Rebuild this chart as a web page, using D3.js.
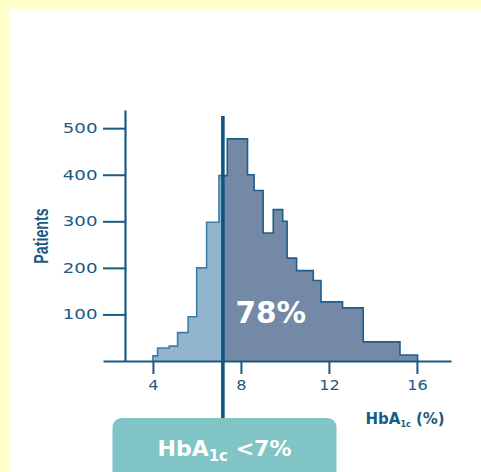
<!DOCTYPE html>
<html>
<head>
<meta charset="utf-8">
<script src="https://cdnjs.cloudflare.com/ajax/libs/d3/7.8.5/d3.min.js"></script>
<style>
  body { margin: 0; background: #ffffcc; }
  svg { display: block; }
</style>
</head>
<body>
<div id="chart"></div>
<script>
// histogram bins (HbA1c %, patients)
var binEdges = [4.0, 4.21, 4.74, 5.12, 5.6, 5.99, 6.44, 7.0, 7.38, 8.30, 8.60, 9.01, 9.47, 9.90, 10.10, 10.53, 11.29, 11.64, 12.62, 13.56, 15.23, 16.03];
var binCounts = [11, 28, 32, 61, 95, 200, 298, 398, 477, 400, 366, 275, 325, 300, 221, 194, 173, 127, 114, 41, 13];
var threshold = 7.18;
var xTicks = [4, 8, 12, 16];
var yTicks = [100, 200, 300, 400, 500];
var shareLabel = '78%';

(function(){
    var width = 481;
    var height = 472;
    var axisColour = '#1b5a84';

    var svg = d3.select('#chart')
        .append('svg')
            .attr('width', width)
            .attr('height', height)
            .style('font-family', '"DejaVu Sans", Verdana, sans-serif');

    svg.append('rect')
        .attr('width', width)
        .attr('height', height)
        .attr('fill', '#ffffcc');

    svg.append('rect')
        .attr('x', 9)
        .attr('y', 9)
        .attr('width', width - 9)
        .attr('height', height - 9)
        .attr('fill', '#ffffff');

    var xScale = d3.scaleLinear()
        .domain([1.73, 17.55])
        .range([103, 451]);

    var yScale = d3.scaleLinear()
        .domain([0, 539])
        .range([361, 110]);

    // step outline points
    var pts = [[binEdges[0], 0]];
    binCounts.forEach(function(c, i){
        pts.push([binEdges[i], c]);
    });
    pts.push([binEdges[binEdges.length - 1], 0]);

    var area = d3.area()
        .curve(d3.curveStepAfter)
        .x(function(d){ return xScale(d[0]); })
        .y0(yScale(0))
        .y1(function(d){ return yScale(d[1]); });

    var line = d3.line()
        .curve(d3.curveStepAfter)
        .x(function(d){ return xScale(d[0]); })
        .y(function(d){ return yScale(d[1]); });

    var defs = svg.append('defs');
    defs.append('clipPath').attr('id', 'below')
        .append('rect')
        .attr('x', 0).attr('y', 0)
        .attr('width', xScale(threshold)).attr('height', height);
    defs.append('clipPath').attr('id', 'above')
        .append('rect')
        .attr('x', xScale(threshold)).attr('y', 0)
        .attr('width', width).attr('height', height);

    var parts = [
        {clip: 'below', fill: '#91b5cd', stroke: '#3f7ca5'},
        {clip: 'above', fill: '#7489a6', stroke: '#1f5e89'}
    ];

    parts.forEach(function(p){
        svg.append('path')
            .datum(pts)
            .attr('clip-path', 'url(#' + p.clip + ')')
            .attr('d', area)
            .attr('fill', p.fill);
        svg.append('path')
            .datum(pts)
            .attr('clip-path', 'url(#' + p.clip + ')')
            .attr('d', line)
            .attr('fill', 'none')
            .attr('stroke', p.stroke)
            .attr('stroke-width', 1.6);
    });

    // axes
    var yAxis = d3.axisLeft(yScale)
        .tickValues(yTicks)
        .tickSize(22)
        .tickSizeOuter(0);

    var xAxis = d3.axisBottom(xScale)
        .tickValues(xTicks)
        .tickSize(13)
        .tickSizeOuter(0)
        .tickPadding(6);

    var gy = svg.append('g')
        .attr('transform', 'translate(125,0)')
        .call(yAxis);

    gy.select('.domain').attr('stroke', axisColour).attr('stroke-width', 2.2);
    gy.selectAll('.tick line').attr('stroke', axisColour).attr('stroke-width', 2);
    gy.selectAll('.tick text')
        .attr('fill', axisColour)
        .attr('font-size', '14px')
        .attr('font-family', '"DejaVu Sans", Verdana, sans-serif')
        .attr('x', -27.5 / 1.3)
        .attr('transform', 'scale(1.3,1)');

    var gx = svg.append('g')
        .attr('transform', 'translate(0,' + yScale(0) + ')')
        .call(xAxis);

    gx.select('.domain').attr('stroke', axisColour).attr('stroke-width', 2.2);
    gx.selectAll('.tick line').attr('stroke', axisColour).attr('stroke-width', 2);
    gx.selectAll('.tick text')
        .attr('fill', axisColour)
        .attr('font-size', '14px')
        .attr('font-family', '"DejaVu Sans", Verdana, sans-serif')
        .attr('transform', 'scale(1.15,1)');

    // threshold line
    svg.append('line')
        .attr('x1', xScale(threshold))
        .attr('x2', xScale(threshold))
        .attr('y1', 116)
        .attr('y2', 425)
        .attr('stroke', '#0f5582')
        .attr('stroke-width', 3.6);

    // share label
    svg.append('text')
        .attr('x', xScale(9.36))
        .attr('y', yScale(81))
        .attr('text-anchor', 'middle')
        .attr('font-size', '29.5px')
        .attr('font-weight', 'bold')
        .attr('fill', '#ffffff')
        .text(shareLabel);

    // y label
    svg.append('text')
        .attr('transform', 'translate(48,236) rotate(-90) scale(0.68,1)')
        .attr('text-anchor', 'middle')
        .attr('font-family', '"Liberation Sans Narrow", "Liberation Sans", sans-serif')
        .attr('font-size', '21px')
        .attr('font-weight', 'bold')
        .attr('fill', axisColour)
        .text('Patients');

    // x label: HbA1c (%)
    var xl = svg.append('text')
        .attr('x', 365.5)
        .attr('y', 424)
        .attr('font-size', '15px')
        .attr('font-weight', 'bold')
        .attr('fill', axisColour);
    xl.append('tspan').text('HbA');
    xl.append('tspan').attr('font-size', '8px').attr('dy', 3).text('1c');
    xl.append('tspan').attr('dy', -3).text(' (%)');

    // badge
    svg.append('rect')
        .attr('x', 112.5)
        .attr('y', 418)
        .attr('width', 224)
        .attr('height', 80)
        .attr('rx', 9)
        .attr('fill', '#80c4c6');

    var bt = svg.append('text')
        .attr('x', 224.5)
        .attr('y', 456)
        .attr('text-anchor', 'middle')
        .attr('font-size', '22px')
        .attr('font-weight', 'bold')
        .attr('fill', '#ffffff');
    bt.append('tspan').text('HbA');
    bt.append('tspan').attr('font-size', '15px').attr('dy', 5).text('1c');
    bt.append('tspan').attr('dy', -5).text(' <7%');
})();
</script>
</body>
</html>
